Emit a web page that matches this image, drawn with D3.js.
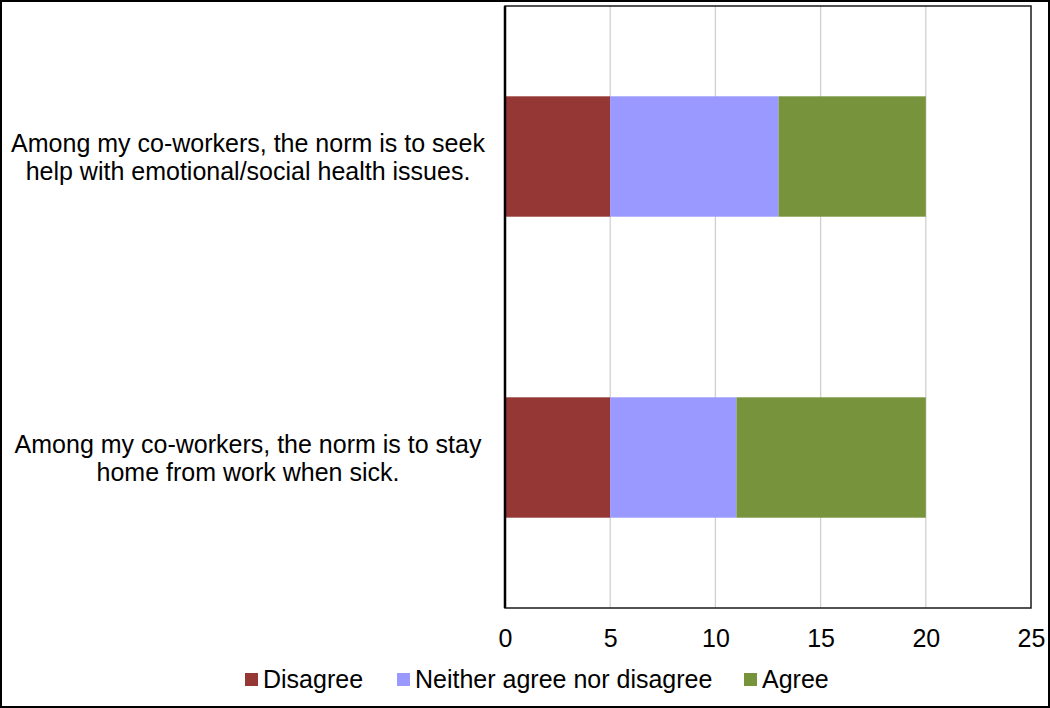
<!DOCTYPE html>
<html>
<head>
<meta charset="utf-8">
<script src="https://cdn.jsdelivr.net/npm/d3@7"></script>
<style>
  html, body { margin: 0; padding: 0; background: #fff; }
  svg { display: block; }
  text { font-family: "Liberation Sans", Arial, sans-serif; fill: #000; }
</style>
</head>
<body>
<svg id="chart" width="1050" height="708"></svg>
<script>
// Survey statements (top to bottom) and response counts per category
const categories = [
  ["Among my co-workers, the norm is to seek", "help with emotional/social health issues."],
  ["Among my co-workers, the norm is to stay", "home from work when sick."]
];
const seriesNames = ["Disagree", "Neither agree nor disagree", "Agree"];
const disagree = [5, 5];
const neither = [8, 6];
const agree = [7, 9];
const xTicks = [0, 5, 10, 15, 20, 25];
const colors = ["#953735", "#9999FF", "#77933C"];

const svg = d3.select("#chart");
const W = 1050, H = 708;
const fontSize = 25;

// outer frame
svg.append("rect")
  .attr("x", 1).attr("y", 1).attr("width", W - 2).attr("height", H - 2)
  .attr("fill", "#fff").attr("stroke", "#000").attr("stroke-width", 2);

const plot = { left: 505, right: 1031, top: 6, bottom: 608 };

const x = d3.scaleLinear().domain([0, 25]).range([plot.left, plot.right]);
const y = d3.scaleBand()
  .domain(d3.range(categories.length))
  .range([plot.top, plot.bottom])
  .paddingInner(0.6).paddingOuter(0.3);

// gridlines
svg.append("g")
  .selectAll("line")
  .data(xTicks.slice(1, -1))
  .join("line")
  .attr("x1", d => x(d)).attr("x2", d => x(d))
  .attr("y1", plot.top).attr("y2", plot.bottom)
  .attr("stroke", "#d0d0d0").attr("stroke-width", 1.3);

// stacked bars
const rows = categories.map((c, i) => ({ i, Disagree: disagree[i], "Neither agree nor disagree": neither[i], Agree: agree[i] }));
const stack = d3.stack().keys(seriesNames)(rows);

svg.append("g")
  .selectAll("g")
  .data(stack)
  .join("g")
  .attr("fill", (d, k) => colors[k])
  .selectAll("rect")
  .data(d => d)
  .join("rect")
  .attr("x", d => x(d[0]))
  .attr("width", d => x(d[1]) - x(d[0]))
  .attr("y", d => y(d.data.i))
  .attr("height", y.bandwidth());

// plot frame
svg.append("rect")
  .attr("x", plot.left).attr("y", plot.top)
  .attr("width", plot.right - plot.left).attr("height", plot.bottom - plot.top)
  .attr("fill", "none").attr("stroke", "#1a1a1a").attr("stroke-width", 1.5);

// vertical category axis line
svg.append("line")
  .attr("x1", plot.left).attr("x2", plot.left)
  .attr("y1", plot.top).attr("y2", plot.bottom)
  .attr("stroke", "#000").attr("stroke-width", 2.5);

// x-axis tick labels
const xAxis = d3.axisBottom(x).tickValues(xTicks).tickSize(0).tickPadding(0);
const gx = svg.append("g").attr("transform", `translate(0,${plot.bottom})`).call(xAxis);
gx.select(".domain").remove();
gx.selectAll("text")
  .attr("y", 39).attr("dy", null)
  .style("font-family", '"Liberation Sans", Arial, sans-serif')
  .style("font-size", fontSize + "px")
  .attr("fill", "#000");

// category labels
const lineH = 28;
svg.append("g")
  .selectAll("text")
  .data(categories)
  .join("text")
  .attr("text-anchor", "middle")
  .style("font-size", fontSize + "px")
  .attr("transform", (d, i) => `translate(248,${y(i) + y.bandwidth() / 2})`)
  .selectAll("tspan")
  .data(d => d)
  .join("tspan")
  .attr("x", 0)
  .attr("y", (d, j, arr) => (j - (arr.length - 1) / 2) * lineH + fontSize * 0.36)
  .text(d => d);

// legend
const legendY = 680;
const legend = svg.append("g");
const legendX = [245, 397, 744];
seriesNames.forEach((name, k) => {
  const g = legend.append("g").attr("transform", `translate(${legendX[k]},${legendY})`);
  g.append("rect").attr("x", 0).attr("y", -7).attr("width", 13).attr("height", 13).attr("fill", colors[k]);
  g.append("text").attr("x", 18).attr("y", 8).style("font-size", fontSize + "px").text(name);
});
</script>
</body>
</html>
